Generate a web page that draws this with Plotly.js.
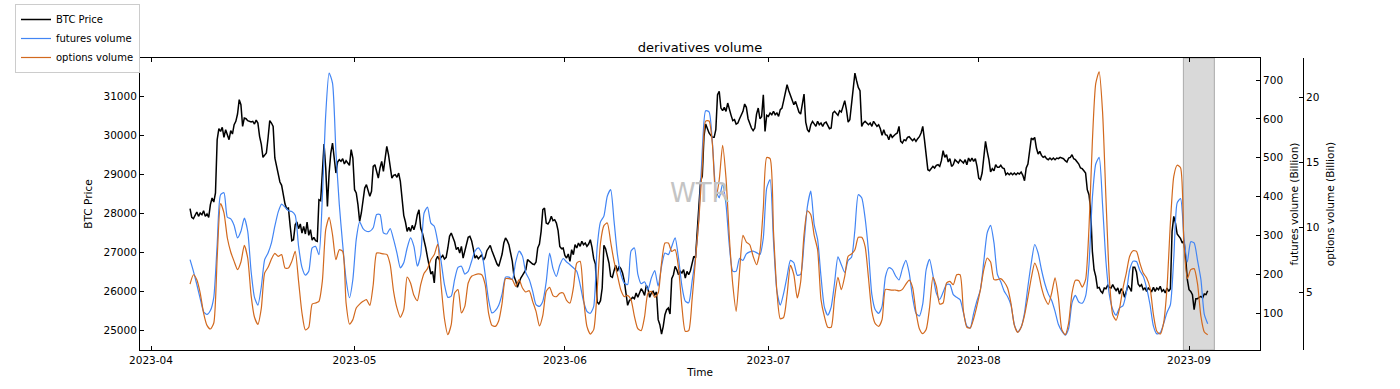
<!DOCTYPE html>
<html>
<head>
<meta charset="utf-8">
<script src="https://cdn.plot.ly/plotly-3.0.1.min.js"></script>
<style>html,body{margin:0;padding:0;background:#fff;}#chart{width:1400px;height:389px;}</style>
</head>
<body>
<div id="chart"></div>
<script>
// ---- data ----
// BTC price, one value every 6 hours starting 2023-04-06 18:00
const btcStart = '2023-04-06T18:00:00Z';
const btcStepHours = 6;
const btcPrice = [
28120,27897,27863,27966,28034,27923,28008,27966,28069,27923,
27983,27897,28223,28394,28291,28523,29894,30177,30108,30211,
29954,30151,30006,29894,30126,30040,30280,30366,30554,30923,
30794,30237,30451,30434,30383,30366,30348,30366,30297,30400,
30323,29980,29783,29440,29491,29551,29937,30383,30323,30237,
29423,29234,28977,28806,28720,28437,28240,28120,28137,27691,
27297,27323,27708,27777,27606,27726,27494,27666,27469,27777,
27434,27580,27314,27383,27297,27280,28351,28326,28994,29783,
29166,28180,29037,29551,29809,29466,29037,29320,29380,29337,
29406,29269,29354,29294,29234,29637,29423,28608,28523,28223,
27794,
28009,28309,28651,28737,28583,28437,28566,29208,29251,29080,
28908,29166,29337,29080,29423,29723,29508,29123,28908,28977,
28994,28926,29037,28823,28266,27948,27777,27537,27640,27537,
27691,27580,27726,27966,28094,27623,27494,27323,27109,26869,
26637,26440,26509,26209,26809,26894,26809,26869,26920,26826,
26869,27109,27409,27494,27366,27263,27066,27126,26980,27151,
26851,27023,27237,27383,27409,27297,27091,26851,26903,26834,
26886,26937,26800,26869,27040,27126,27177,27040,26920,26834,
26697,26637,26800,26954,27237,27366,27297,27194,26980,26766,
26380,26269,26097,26234,26337,26406,26466,26551,26809,26766,
26723,26697,26680,
26749,27109,27211,27537,28094,28137,27751,27726,27794,27923,
27811,27837,27751,27554,27151,27091,27109,26920,26851,26954,
26766,27066,26937,27194,27109,27237,27151,27280,27194,27237,
27151,27211,27323,27126,26834,26697,25720,25669,25754,26080,
27177,27091,26920,26723,26380,26354,26526,26663,26509,26637,
26577,26466,26269,25994,25634,25754,25806,25840,25806,25951,
25840,25977,26063,25994,25891,26149,26063,25840,25951,25994,
25909,25977,25266,25137,24897,25094,25394,25523,25566,25411,
26320,26423,26637,26551,26423,26509,26466,26551,26337,26509,
26423,26526,26749,26894,26851,27580,28223,28840,28951,29980,
30297,30151,30066,
30006,29954,29954,30151,31051,31137,30708,30640,30726,30623,
30837,30708,30520,30383,30408,30297,30323,30434,30554,30623,
30811,30726,30434,30280,30194,30126,30194,30554,30708,30434,
30486,31051,30108,30520,30494,30580,30537,30623,30537,30580,
30494,30666,30708,30897,31094,31308,31154,31034,30897,30794,
30880,30726,30606,30554,30794,31068,30348,30151,30091,30280,
30366,30297,30237,30366,30280,30323,30237,30323,30348,30263,
30177,30194,30580,30623,30580,30520,30640,30606,30751,30897,
30666,30348,30408,30794,31137,31608,31411,31240,31154,30237,
30323,30366,30323,30280,30323,30237,30366,30280,30237,30280,
30177,30006,30151,
30023,30006,29894,30040,29954,30006,30040,30066,30237,29851,
29808,29894,29868,29954,29971,29920,29868,29920,29851,29920,
29971,30066,30237,29894,29508,29123,29097,29166,29208,29166,
29234,29251,29208,29354,29611,29440,29508,29320,29406,29208,
29251,29380,29337,29294,29380,29337,29294,29380,29251,29423,
29337,29423,29337,29406,29208,28908,28866,29037,29466,29851,
29594,29380,29063,29149,29097,29251,29183,29183,29234,29166,
29149,28994,29037,28994,29037,28994,29037,28994,29037,29011,
29063,28977,28840,29166,29269,29577,29937,29894,29954,29680,
29526,29594,29491,29440,29466,29406,29380,29423,29380,29423,
29380,29423,29406,
29440,29423,29406,29354,29320,29423,29440,29508,29406,29380,
29337,29269,29166,29149,29097,29037,28608,28480,28094,27023,
26551,26380,26080,26097,25994,25951,26080,26063,26149,26097,
26080,26166,26080,26011,26080,25926,26063,25994,25840,25994,
26149,26080,25994,26612,26612,26491,26183,26123,26166,26037,
26080,25994,26080,26037,25994,26097,25994,26080,26037,26123,
25994,26037,25951,26080,25994,26063,27537,27923,27751,27469,
27409,27349,27237,27297,26851,26294,26037,25994,25909,25523,
25806,25806,25840,25866,25823,25926,25909,26011
];

// futures and options volume (Billion), one value every 12 hours from 2023-04-06 18:00
const volStart = '2023-04-06T18:00:00Z';
const volStepHours = 12;
const futuresVolume = [
238,208,174,138,104,97,107,141,277,405,
410,347,343,326,294,311,345,311,208,141,
121,167,238,255,281,324,361,381,373,364,
362,352,272,218,198,208,268,272,251,397,
611,718,692,517,380,277,187,140,187,290,
335,
318,311,311,320,354,354,307,304,318,290,
255,217,230,268,294,272,221,251,358,373,
332,324,285,234,174,141,144,187,218,221,
201,208,234,260,268,255,200,135,101,107,
121,150,193,193,187,232,260,247,204,187,
157,
122,118,131,181,255,215,195,224,241,232,
225,217,208,174,131,105,100,118,268,335,
350,401,418,337,251,201,178,174,260,268,
201,176,181,161,191,210,170,221,255,251,
272,294,242,170,131,127,182,244,345,517,
621,618,
538,418,397,433,380,272,208,208,241,236,
253,258,260,256,251,294,422,444,285,157,
121,152,195,236,230,198,200,281,375,414,
328,290,195,116,95,116,178,245,225,205,
236,244,315,405,397,345,260,148,109,100,
118,
194,217,213,196,186,215,236,204,141,100,
93,124,212,239,198,152,136,154,174,174,
148,141,135,101,67,62,100,133,161,234,
307,326,281,200,181,157,143,121,71,52,
64,101,169,230,277,255,212,176,150,133,
105,71,
54,44,61,127,146,129,126,144,225,397,
484,501,380,234,148,110,95,114,119,152,
212,234,233,210,195,165,122,67,47,50,
73,102,122,242,384,395,294,232,284,281,
236,187,97,73
];
const optionsVolume = [
5.64,6.36,5.98,4.95,3.41,2.46,2.18,2.64,7.65,11.85,
11.12,9.19,8.11,7.39,6.75,7.34,8.62,7.65,4.77,3.08,
2.54,3.75,6.49,6.93,7.57,8.01,7.78,7.91,6.88,6.88,
7.39,8.16,5.85,3.41,2.10,2.31,4.10,4.18,4.31,5.85,
9.83,10.78,9.45,7.52,8.29,8.16,4.18,2.56,2.90,3.80,
4.10,
4.31,4.44,4.00,5.59,8.03,8.03,7.96,7.93,7.13,5.08,
3.80,3.08,3.67,6.17,5.72,4.77,4.36,5.59,6.47,6.83,
7.52,7.91,8.70,5.59,2.97,1.74,2.51,4.95,5.21,3.41,
3.92,5.72,6.24,6.36,6.42,6.36,5.59,3.41,2.46,2.38,
2.82,4.18,6.06,6.06,5.98,5.47,5.98,5.34,5.03,5.13,
4.31,
3.54,2.41,3.23,5.08,5.39,4.75,4.67,4.93,4.95,4.39,
4.18,5.34,7.26,7.39,4.57,2.38,1.79,2.13,5.08,8.80,
10.14,10.35,8.88,7.39,6.29,5.18,4.67,4.77,4.44,3.15,
2.20,2.05,3.13,4.95,5.08,4.62,4.95,7.26,8.80,8.80,
8.16,8.29,6.88,3.92,2.00,2.05,4.44,7.52,10.60,14.71,
18.20,18.20,
16.38,12.27,13.68,16.33,13.81,9.19,5.59,3.54,6.62,9.39,
8.88,8.67,7.78,7.13,8.16,11.50,15.40,15.30,9.70,5.08,
2.97,3.08,4.82,7.08,6.36,4.57,5.80,9.45,11.29,10.99,
9.39,8.29,4.44,3.15,2.31,2.31,4.57,6.16,5.21,6.24,
7.78,7.96,8.29,9.24,9.24,8.55,6.11,3.54,2.59,2.38,
2.90,
5.23,5.21,5.18,5.18,5.11,5.23,5.62,5.95,5.39,3.49,
2.20,1.82,2.13,3.80,6.16,5.47,4.10,4.18,5.72,5.85,
5.59,6.36,6.36,3.54,2.31,2.26,2.97,4.00,5.21,6.75,
7.65,7.34,5.98,5.98,6.06,5.80,5.34,4.18,2.46,1.92,
2.31,3.23,4.62,6.11,7.26,6.62,5.39,4.52,4.08,4.95,
6.11,4.57,
2.13,1.74,2.64,4.95,5.93,5.90,5.41,5.98,9.96,16.64,
21.10,22.00,18.95,12.27,6.11,3.28,2.85,3.75,5.29,6.49,
7.78,8.21,8.16,7.26,6.49,6.11,5.34,3.28,2.00,1.79,
2.64,5.34,10.35,13.94,14.80,14.60,8.68,6.06,6.75,6.83,
5.65,3.15,1.95,1.74
];

// axis ticks
const monthTickVals = ['2023-04-01','2023-05-01','2023-06-01','2023-07-01','2023-08-01','2023-09-01'];
const monthTickText = ['2023-04','2023-05','2023-06','2023-07','2023-08','2023-09'];
const btcTicks = [25000,26000,27000,28000,29000,30000,31000];
const futuresTicks = [100,200,300,400,500,600,700];
const optionsTicks = [5,10,15,20];
const highlightSpan = ['2023-08-31 04:00','2023-09-04 17:30'];

// ---- build time axes ----
function timeAxis(startIso, stepHours, n) {
  const t0 = new Date(startIso).getTime();
  const out = [];
  for (let i = 0; i < n; i++) {
    out.push(new Date(t0 + i * stepHours * 3600e3).toISOString().slice(0,16).replace('T',' '));
  }
  return out;
}
const btcTime = timeAxis(btcStart, btcStepHours, btcPrice.length);
const volTime = timeAxis(volStart, volStepHours, futuresVolume.length);

const FONT = 'DejaVu Sans, Liberation Sans, sans-serif';
const fs = 10.5;

const traces = [
  {x: btcTime, y: btcPrice, name: 'BTC Price', type: 'scatter', mode: 'lines',
   line: {color: '#000000', width: 1.5}, yaxis: 'y'},
  {x: volTime, y: futuresVolume, name: 'futures volume', type: 'scatter', mode: 'lines',
   line: {color: '#4285f4', width: 1.2, shape: 'spline', smoothing: 0.6}, yaxis: 'y2'},
  {x: volTime, y: optionsVolume, name: 'options volume', type: 'scatter', mode: 'lines',
   line: {color: '#d2691e', width: 1.2, shape: 'spline', smoothing: 0.6}, yaxis: 'y3'}
];

const axisCommon = {
  showgrid: false, zeroline: false, showline: true, linecolor: '#000', linewidth: 1,
  ticks: 'inside', ticklen: 4, tickwidth: 1, tickcolor: '#000',
  tickfont: {family: FONT, size: fs, color: '#000'}
};

const mL = 140, mR = 2, mT = 58, mB = 39;
const plotW = 1400 - mL - mR, plotH = 389 - mT - mB;
const layout = {
  width: 1400, height: 389,
  margin: {l: mL, r: mR, t: mT, b: mB, pad: 0},
  paper_bgcolor: '#fff', plot_bgcolor: '#fff',
  font: {family: FONT, size: fs, color: '#000'},
  title: {text: 'derivatives volume', font: {family: FONT, size: 13, color: '#000'},
          xref: 'container', x: 0.5, xanchor: 'center', yref: 'container', y: 1 - 47/389, yanchor: 'middle'},
  showlegend: true,
  legend: {x: (15-mL)/plotW, y: 1 + 54/plotH, xanchor: 'left', yanchor: 'top', xref: 'paper', yref: 'paper',
           bgcolor: '#fff', bordercolor: '#cccccc', borderwidth: 1,
           font: {family: FONT, size: 10, color: '#000'}, tracegroupgap: 0},
  xaxis: Object.assign({}, axisCommon, {
    type: 'date', domain: [0, 1120/plotW], range: ['2023-03-30 09:00', '2023-09-11 11:00'],
    tickmode: 'array', tickvals: monthTickVals, ticktext: monthTickText, mirror: 'ticks',
    title: {text: 'Time', font: {family: FONT, size: fs, color: '#000'}, standoff: 4}
  }),
  yaxis: Object.assign({}, axisCommon, {
    range: [24486, 31995], tickmode: 'array', tickvals: btcTicks, ticktext: btcTicks.map(String),
    title: {text: 'BTC Price', font: {family: FONT, size: fs, color: '#000'}, standoff: 8}
  }),
  yaxis2: Object.assign({}, axisCommon, {
    overlaying: 'y', side: 'right', anchor: 'x', range: [5.6, 756.6],
    tickmode: 'array', tickvals: futuresTicks, ticktext: futuresTicks.map(String),
    title: {text: 'futures volume (Billion)', font: {family: FONT, size: fs, color: '#000'}, standoff: 8}
  }),
  yaxis3: Object.assign({}, axisCommon, {
    overlaying: 'y', side: 'right', anchor: 'free', position: (1303-mL)/plotW, range: [0.56, 23.06],
    tickmode: 'array', tickvals: optionsTicks, ticktext: optionsTicks.map(String),
    title: {text: 'options volume (Billion)', font: {family: FONT, size: fs, color: '#000'}, standoff: 8}
  }),
  shapes: [{type: 'rect', xref: 'x', yref: 'paper', x0: highlightSpan[0], x1: highlightSpan[1], y0: 0, y1: 1,
            fillcolor: '#d9d9d9', line: {color: '#aaaaaa', width: 1}, layer: 'below'}],
  annotations: [{text: 'WTR', xref: 'paper', yref: 'paper', x: (700-mL)/plotW, y: (350-193)/plotH,
                 xanchor: 'center', yanchor: 'middle', showarrow: false,
                 font: {family: FONT, size: 26, color: '#c4c4c4'}}]
};

Plotly.newPlot('chart', traces, layout, {displayModeBar: false, staticPlot: true});
</script>
</body>
</html>
